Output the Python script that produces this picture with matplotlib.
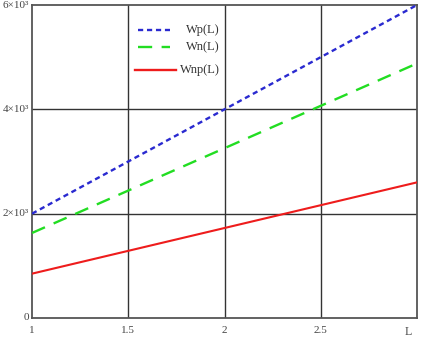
import matplotlib
matplotlib.use("Agg")
import matplotlib.pyplot as plt
import numpy as np

L = [1.0, 3.0]
Wp = [2000, 6000]
Wn = [1630, 4880]
Wnp = [850, 2600]

x_ticks = [1, 1.5, 2, 2.5]
x_tick_labels = ["1", "1.5", "2", "2.5"]
y_ticks = [0, 2000, 4000, 6000]
y_tick_labels = ["0", "2×10³", "4×10³", "6×10³"]

plt.rcParams['font.family'] = ['Liberation Serif', 'DejaVu Serif']

fig = plt.figure(figsize=(4.34, 3.45), dpi=100)
ax = fig.add_axes([32/434, 1-318/345, (417-32)/434, (318-5)/345])

ax.set_xlim(1, 3)
ax.set_ylim(0, 6000)

for g in [1.5, 2, 2.5]:
    ax.axvline(g, color='#333333', lw=1.0, zorder=1)
for g in [2000, 4000]:
    ax.axhline(g, color='#333333', lw=1.0, zorder=1)

ax.plot(L, Wp, color='#2a2ad0', lw=1.7, linestyle=(0, (2.2, 1.6)), zorder=3)
ax.plot(L, Wn, color='#22dd22', lw=1.7, linestyle=(0, (6, 4)), zorder=3)
ax.plot(L, Wnp, color='#ee1c1c', lw=1.5, zorder=3)

for s in ax.spines.values():
    s.set_color('#555555')
    s.set_linewidth(1.3)

ax.set_xticks(x_ticks)
ax.set_xticklabels(x_tick_labels)
ax.set_yticks(y_ticks)
ax.set_yticklabels(y_tick_labels)
ax.tick_params(length=0, labelsize=8, labelcolor='#444444')
ax.tick_params(axis='x', pad=6)
ax.tick_params(axis='y', pad=2)
for lab in ax.get_yticklabels():
    lab.set_verticalalignment('center')

fig.text(408/434, 1-332/345, "L", fontsize=8.5, color='#444444', ha='center', va='center')

# legend drawn manually
leg = [("Wp(L)", '#2a2ad0', (0, (2.2, 1.6)), 30),
       ("Wn(L)", '#22dd22', (0, (6, 4)), 47),
       ("Wnp(L)", '#ee1c1c', '-', 70)]
for lab, col, ls, ypx in leg:
    yf = 1 - ypx/345
    x0 = 138/434 if lab != "Wnp(L)" else 135/434
    x1 = 170/434 if lab != "Wnp(L)" else 176/434
    fig.add_artist(plt.Line2D([x0, x1], [yf, yf], color=col, lw=1.7, linestyle=ls))
    fig.text(220/434, yf, lab, fontsize=9, color='#333333', ha='right', va='center')

fig.savefig("out.png", dpi=100)
